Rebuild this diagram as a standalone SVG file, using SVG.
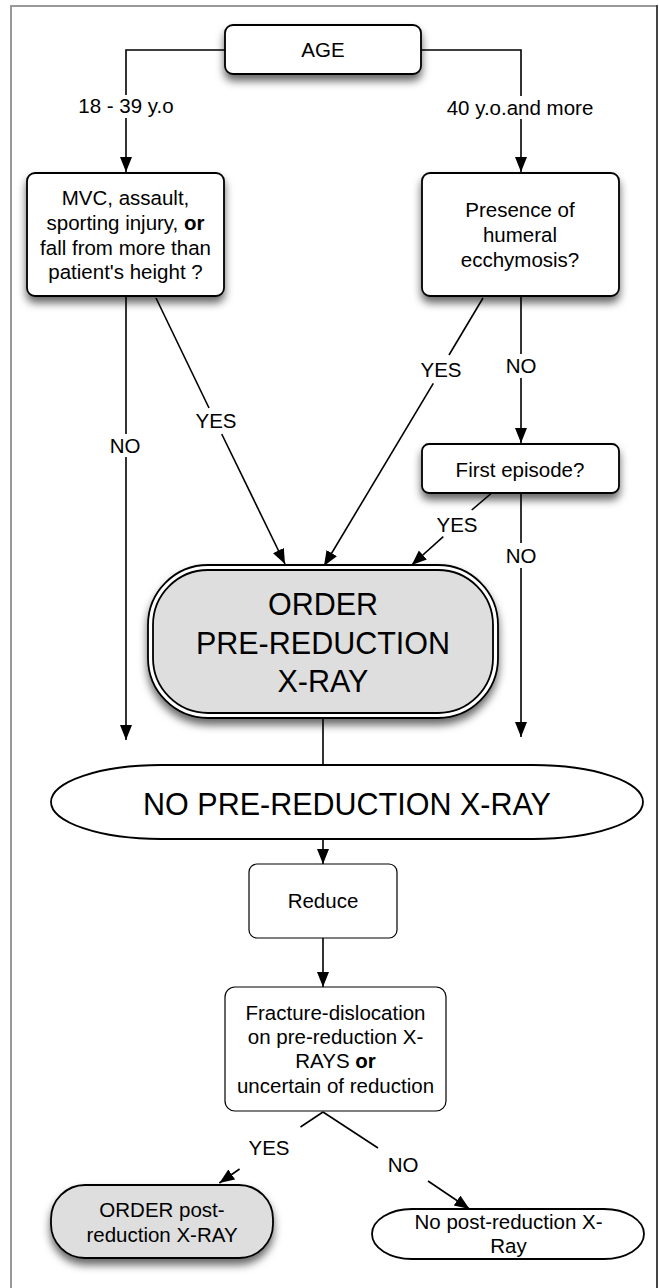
<svg xmlns="http://www.w3.org/2000/svg" width="659" height="1288" viewBox="0 0 659 1288">
<style>
text{font-family:"Liberation Sans",Arial,sans-serif;font-size:20.5px;fill:#000;text-anchor:middle}
.big{font-size:30.5px}
.box{fill:#fff;stroke:#000;stroke-width:1.8}
.thin{fill:#fff;stroke:#000;stroke-width:1.2}
.gray{fill:#dedede;stroke:#000;stroke-width:1.8}
.ln{fill:none;stroke:#000;stroke-width:1.6}
.arr{fill:none;stroke:#000;stroke-width:1.6;marker-end:url(#ah)}
</style>
<defs>
<marker id="ah" markerUnits="userSpaceOnUse" markerWidth="17" markerHeight="13" refX="15" refY="6" orient="auto">
<path d="M0,0 L15,6 L0,12 Z" fill="#000"/>
</marker>
<filter id="sh" x="-20%" y="-20%" width="140%" height="160%">
<feDropShadow dx="0" dy="6" stdDeviation="4.5" flood-color="#000" flood-opacity="0.6"/>
</filter>
</defs>
<rect width="659" height="1288" fill="#fff"/>
<g id="frame">
<path d="M11,1288 V6 H657" fill="none" stroke="#999" stroke-width="2"/>
<path d="M657,5 V1288" fill="none" stroke="#444" stroke-width="2"/>
</g>
<g id="connectors">
<path class="ln" d="M225,50 H126 V95"/>
<path class="arr" d="M126,118 V172"/>
<path class="ln" d="M421,50 H521 V96"/>
<path class="arr" d="M521,119 V172"/>
<path class="ln" d="M126,296 V434"/>
<path class="arr" d="M126,457 V740"/>
<path class="ln" d="M156,298 L209,408"/>
<path class="arr" d="M221.7,434 L285,564"/>
<path class="ln" d="M483,298 L449,355"/>
<path class="arr" d="M433.3,383.3 L324,566"/>
<path class="ln" d="M521,296 V354"/>
<path class="arr" d="M521,378 V443"/>
<path class="ln" d="M491.7,493 L471.7,510"/>
<path class="arr" d="M443.3,536.7 L411.7,565"/>
<path class="ln" d="M521,493 V543"/>
<path class="arr" d="M521,568 V737"/>
<path class="ln" d="M323,718 V765"/>
<path class="arr" d="M323,839 V864"/>
<path class="arr" d="M323,938 V987"/>
<path class="ln" d="M323,1112 L300.5,1127"/>
<path class="arr" d="M239.6,1169 L219.4,1183"/>
<path class="ln" d="M323,1112 L378,1148"/>
<path class="arr" d="M428,1181 L469.5,1209"/>
</g>
<g id="labels">
<text x="126" y="113">18 - 39 y.o</text>
<text x="520" y="115">40 y.o.and more</text>
<text x="125" y="453">NO</text>
<text x="216" y="428">YES</text>
<text x="441" y="377">YES</text>
<text x="521" y="373">NO</text>
<text x="457" y="532">YES</text>
<text x="521" y="563">NO</text>
<text x="269" y="1155">YES</text>
<text x="403" y="1172">NO</text>
</g>
<g id="age">
<rect class="box" x="225" y="25" width="196" height="49" rx="8" filter="url(#sh)"/>
<text x="323" y="57">AGE</text>
</g>
<g id="mvc">
<rect class="box" x="27" y="173" width="197" height="123" rx="8" filter="url(#sh)"/>
<text x="125.5" y="205">MVC, assault,</text>
<text x="125.5" y="230">sporting injury, <tspan font-weight="bold">or</tspan></text>
<text x="125.5" y="255">fall from more than</text>
<text x="125.5" y="279">patient's height ?</text>
</g>
<g id="presence">
<rect class="box" x="422" y="173" width="197" height="123" rx="8" filter="url(#sh)"/>
<text x="520" y="217">Presence of</text>
<text x="520" y="242">humeral</text>
<text x="520" y="267">ecchymosis?</text>
</g>
<g id="first-episode">
<rect class="box" x="422" y="444" width="197" height="49" rx="7" filter="url(#sh)"/>
<text x="520" y="477">First episode?</text>
</g>
<g id="order-pre">
<rect class="box" x="148" y="565" width="350" height="153" rx="60" filter="url(#sh)"/>
<rect class="gray" x="153" y="570" width="340" height="143" rx="55"/>
<text class="big" x="323" y="615">ORDER</text>
<text class="big" x="323" y="654">PRE-REDUCTION</text>
<text class="big" x="323" y="692">X-RAY</text>
</g>
<g id="no-pre">
<path class="box" d="M161,765 H533 A110,37 0 0 1 533,839 H161 A110,37 0 0 1 161,765 Z" stroke-width="1.5"/>
<text class="big" x="347" y="815">NO PRE-REDUCTION X-RAY</text>
</g>
<g id="reduce">
<rect class="thin" x="249" y="864" width="148" height="74" rx="8"/>
<text x="323" y="908">Reduce</text>
</g>
<g id="fracture">
<rect class="thin" x="225" y="987" width="221" height="124" rx="10"/>
<text x="335.5" y="1020">Fracture-dislocation</text>
<text x="335.5" y="1044">on pre-reduction X-</text>
<text x="335.5" y="1068">RAYS <tspan font-weight="bold">or</tspan></text>
<text x="335.5" y="1093">uncertain of reduction</text>
</g>
<g id="order-post">
<rect class="gray" x="51" y="1185" width="222" height="73" rx="34" filter="url(#sh)"/>
<text x="162" y="1217">ORDER post-</text>
<text x="162" y="1242">reduction X-RAY</text>
</g>
<g id="no-post">
<path class="box" d="M412,1209 H604 A40,25 0 0 1 604,1259 H412 A40,25 0 0 1 412,1209 Z" stroke-width="1.5"/>
<text x="508.5" y="1229">No post-reduction X-</text>
<text x="508.5" y="1253">Ray</text>
</g>
</svg>
